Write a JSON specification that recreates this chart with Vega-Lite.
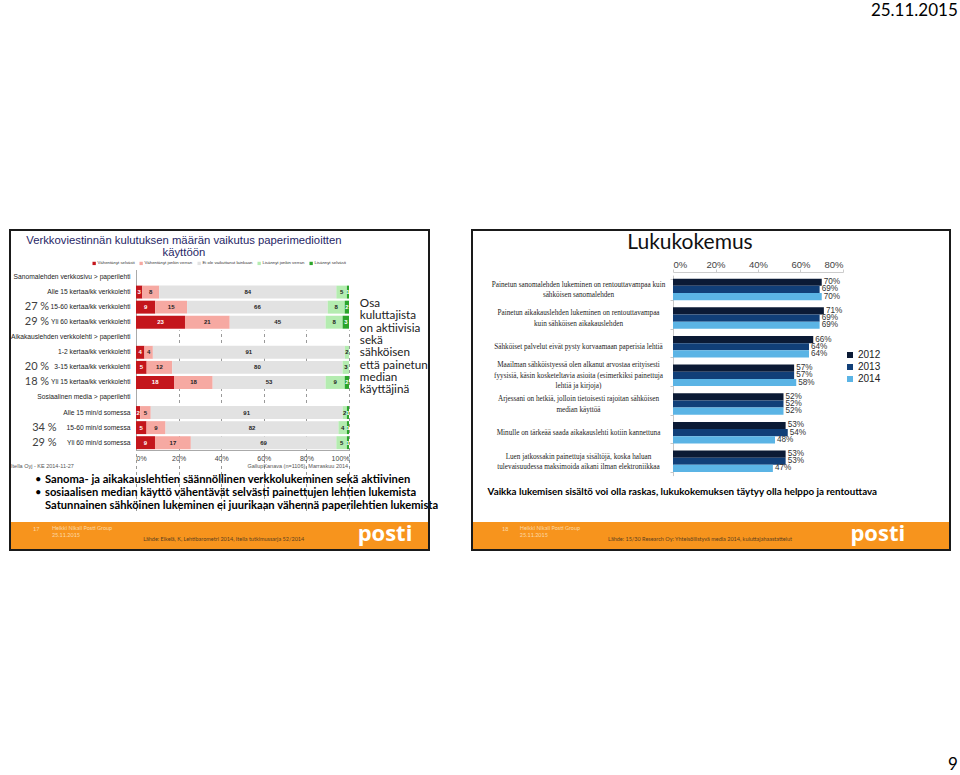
{
  "$schema": "https://vega.github.io/schema/vega-lite/v6.json",
  "background": "white",
  "padding": {"left": 9, "top": 2, "right": 0, "bottom": 0},
  "title": {"text": "25.11.2015", "anchor": "end", "font": "Lato", "fontSize": 17, "fontWeight": "normal", "color": "#000000", "offset": 206},
  "config": {"view": {"stroke": null}},
  "bounds": "flush",
  "spacing": 43,
  "resolve": {"scale": {"color": "independent"}, "legend": {"color": "independent"}},
  "datasets": {
    "left": [
      {"row": "Alle 15 kertaa/kk verkkolehti", "k": 1, "resp": "Vähentänyt selvästi", "v": 3},
      {"row": "Alle 15 kertaa/kk verkkolehti", "k": 2, "resp": "Vähentänyt jonkin verran", "v": 8},
      {"row": "Alle 15 kertaa/kk verkkolehti", "k": 3, "resp": "Ei ole vaikuttanut lainkaan", "v": 84},
      {"row": "Alle 15 kertaa/kk verkkolehti", "k": 4, "resp": "Lisännyt jonkin verran", "v": 5},
      {"row": "Alle 15 kertaa/kk verkkolehti", "k": 5, "resp": "Lisännyt selvästi", "v": 1},
      {"row": "15-60 kertaa/kk verkkolehti", "k": 1, "resp": "Vähentänyt selvästi", "v": 9},
      {"row": "15-60 kertaa/kk verkkolehti", "k": 2, "resp": "Vähentänyt jonkin verran", "v": 15},
      {"row": "15-60 kertaa/kk verkkolehti", "k": 3, "resp": "Ei ole vaikuttanut lainkaan", "v": 66},
      {"row": "15-60 kertaa/kk verkkolehti", "k": 4, "resp": "Lisännyt jonkin verran", "v": 8},
      {"row": "15-60 kertaa/kk verkkolehti", "k": 5, "resp": "Lisännyt selvästi", "v": 2},
      {"row": "Yli 60 kertaa/kk verkkolehti", "k": 1, "resp": "Vähentänyt selvästi", "v": 23},
      {"row": "Yli 60 kertaa/kk verkkolehti", "k": 2, "resp": "Vähentänyt jonkin verran", "v": 21},
      {"row": "Yli 60 kertaa/kk verkkolehti", "k": 3, "resp": "Ei ole vaikuttanut lainkaan", "v": 45},
      {"row": "Yli 60 kertaa/kk verkkolehti", "k": 4, "resp": "Lisännyt jonkin verran", "v": 8},
      {"row": "Yli 60 kertaa/kk verkkolehti", "k": 5, "resp": "Lisännyt selvästi", "v": 3},
      {"row": "1-2  kertaa/kk verkkolehti", "k": 1, "resp": "Vähentänyt selvästi", "v": 4},
      {"row": "1-2  kertaa/kk verkkolehti", "k": 2, "resp": "Vähentänyt jonkin verran", "v": 4},
      {"row": "1-2  kertaa/kk verkkolehti", "k": 3, "resp": "Ei ole vaikuttanut lainkaan", "v": 91},
      {"row": "1-2  kertaa/kk verkkolehti", "k": 4, "resp": "Lisännyt jonkin verran", "v": 2},
      {"row": "3-15 kertaa/kk verkkolehti", "k": 1, "resp": "Vähentänyt selvästi", "v": 5},
      {"row": "3-15 kertaa/kk verkkolehti", "k": 2, "resp": "Vähentänyt jonkin verran", "v": 12},
      {"row": "3-15 kertaa/kk verkkolehti", "k": 3, "resp": "Ei ole vaikuttanut lainkaan", "v": 80},
      {"row": "3-15 kertaa/kk verkkolehti", "k": 4, "resp": "Lisännyt jonkin verran", "v": 3},
      {"row": "Yli 15 kertaa/kk verkkolehti", "k": 1, "resp": "Vähentänyt selvästi", "v": 18},
      {"row": "Yli 15 kertaa/kk verkkolehti", "k": 2, "resp": "Vähentänyt jonkin verran", "v": 18},
      {"row": "Yli 15 kertaa/kk verkkolehti", "k": 3, "resp": "Ei ole vaikuttanut lainkaan", "v": 53},
      {"row": "Yli 15 kertaa/kk verkkolehti", "k": 4, "resp": "Lisännyt jonkin verran", "v": 9},
      {"row": "Yli 15 kertaa/kk verkkolehti", "k": 5, "resp": "Lisännyt selvästi", "v": 2},
      {"row": "Alle 15 min/d somessa", "k": 1, "resp": "Vähentänyt selvästi", "v": 2},
      {"row": "Alle 15 min/d somessa", "k": 2, "resp": "Vähentänyt jonkin verran", "v": 5},
      {"row": "Alle 15 min/d somessa", "k": 3, "resp": "Ei ole vaikuttanut lainkaan", "v": 91},
      {"row": "Alle 15 min/d somessa", "k": 4, "resp": "Lisännyt jonkin verran", "v": 2},
      {"row": "Alle 15 min/d somessa", "k": 5, "resp": "Lisännyt selvästi", "v": 1},
      {"row": "15-60 min/d somessa", "k": 1, "resp": "Vähentänyt selvästi", "v": 5},
      {"row": "15-60 min/d somessa", "k": 2, "resp": "Vähentänyt jonkin verran", "v": 9},
      {"row": "15-60 min/d somessa", "k": 3, "resp": "Ei ole vaikuttanut lainkaan", "v": 82},
      {"row": "15-60 min/d somessa", "k": 4, "resp": "Lisännyt jonkin verran", "v": 4},
      {"row": "15-60 min/d somessa", "k": 5, "resp": "Lisännyt selvästi", "v": 1},
      {"row": "Yli 60 min/d somessa", "k": 1, "resp": "Vähentänyt selvästi", "v": 9},
      {"row": "Yli 60 min/d somessa", "k": 2, "resp": "Vähentänyt jonkin verran", "v": 17},
      {"row": "Yli 60 min/d somessa", "k": 3, "resp": "Ei ole vaikuttanut lainkaan", "v": 69},
      {"row": "Yli 60 min/d somessa", "k": 4, "resp": "Lisännyt jonkin verran", "v": 5},
      {"row": "Yli 60 min/d somessa", "k": 5, "resp": "Lisännyt selvästi", "v": 1}
    ],
    "right": [
      {"s": "Painetun sanomalehden lukeminen on rentouttavampaa kuin|sähköisen sanomalehden", "year": "2012", "v": 0.70},
      {"s": "Painetun sanomalehden lukeminen on rentouttavampaa kuin|sähköisen sanomalehden", "year": "2013", "v": 0.69},
      {"s": "Painetun sanomalehden lukeminen on rentouttavampaa kuin|sähköisen sanomalehden", "year": "2014", "v": 0.70},
      {"s": "Painetun aikakauslehden lukeminen on rentouttavampaa|kuin sähköisen aikakauslehden", "year": "2012", "v": 0.71},
      {"s": "Painetun aikakauslehden lukeminen on rentouttavampaa|kuin sähköisen aikakauslehden", "year": "2013", "v": 0.69},
      {"s": "Painetun aikakauslehden lukeminen on rentouttavampaa|kuin sähköisen aikakauslehden", "year": "2014", "v": 0.69},
      {"s": "Sähköiset palvelut eivät pysty korvaamaan paperisia lehtiä", "year": "2012", "v": 0.66},
      {"s": "Sähköiset palvelut eivät pysty korvaamaan paperisia lehtiä", "year": "2013", "v": 0.64},
      {"s": "Sähköiset palvelut eivät pysty korvaamaan paperisia lehtiä", "year": "2014", "v": 0.64},
      {"s": "Maailman sähköistyessä olen alkanut arvostaa erityisesti|fyysisiä, käsin kosketeltavia asioita (esimerkiksi painettuja|lehtiä ja kirjoja)", "year": "2012", "v": 0.57},
      {"s": "Maailman sähköistyessä olen alkanut arvostaa erityisesti|fyysisiä, käsin kosketeltavia asioita (esimerkiksi painettuja|lehtiä ja kirjoja)", "year": "2013", "v": 0.57},
      {"s": "Maailman sähköistyessä olen alkanut arvostaa erityisesti|fyysisiä, käsin kosketeltavia asioita (esimerkiksi painettuja|lehtiä ja kirjoja)", "year": "2014", "v": 0.58},
      {"s": "Arjessani on hetkiä, jolloin tietoisesti rajoitan sähköisen|median käyttöä", "year": "2012", "v": 0.52},
      {"s": "Arjessani on hetkiä, jolloin tietoisesti rajoitan sähköisen|median käyttöä", "year": "2013", "v": 0.52},
      {"s": "Arjessani on hetkiä, jolloin tietoisesti rajoitan sähköisen|median käyttöä", "year": "2014", "v": 0.52},
      {"s": "Minulle on tärkeää saada aikakauslehti kotiin kannettuna", "year": "2012", "v": 0.53},
      {"s": "Minulle on tärkeää saada aikakauslehti kotiin kannettuna", "year": "2013", "v": 0.54},
      {"s": "Minulle on tärkeää saada aikakauslehti kotiin kannettuna", "year": "2014", "v": 0.48},
      {"s": "Luen jatkossakin painettuja sisältöjä, koska haluan|tulevaisuudessa maksimoida aikani ilman elektroniikkaa", "year": "2012", "v": 0.53},
      {"s": "Luen jatkossakin painettuja sisältöjä, koska haluan|tulevaisuudessa maksimoida aikani ilman elektroniikkaa", "year": "2013", "v": 0.53},
      {"s": "Luen jatkossakin painettuja sisältöjä, koska haluan|tulevaisuudessa maksimoida aikani ilman elektroniikkaa", "year": "2014", "v": 0.47}
    ]
  },
  "hconcat": [
    {
      "width": 419,
      "height": 320,
      "resolve": {"scale": {"x": "independent", "y": "independent"}},
      "layer": [
        {
          "data": {"values": [{}]},
          "mark": {"type": "rect", "color": "#f7941d"},
          "encoding": {
            "x": {"datum": 0, "type": "quantitative", "scale": {"domain": [0, 1]}, "axis": null},
            "x2": {"datum": 1},
            "y": {"datum": 0.9125, "type": "quantitative", "scale": {"domain": [0, 1], "reverse": true}, "axis": null},
            "y2": {"datum": 1}
          }
        },
        {
          "layer": [
            {
              "data": {"name": "left"},
              "mark": {"type": "bar"},
              "encoding": {
                "y": {
                  "field": "row", "type": "nominal",
                  "scale": {
                    "domain": ["Sanomalehden verkkosivu > paperilehti", "Alle 15 kertaa/kk verkkolehti", "15-60 kertaa/kk verkkolehti", "Yli 60 kertaa/kk verkkolehti", "Aikakauslehden verkkolehti > paperilehti", "1-2  kertaa/kk verkkolehti", "3-15 kertaa/kk verkkolehti", "Yli 15 kertaa/kk verkkolehti", "Sosiaalinen media > paperilehti", "Alle 15 min/d somessa", "15-60 min/d somessa", "Yli 60 min/d somessa"],
                    "range": [39.5, 220.2], "paddingInner": 0.14, "paddingOuter": 0.07
                  },
                  "axis": {"orient": "left", "offset": -126, "title": null, "ticks": false, "domain": true, "domainColor": "#aaaaaa", "labelPadding": 6, "labelFont": "Liberation Sans", "labelFontSize": 6.7, "labelColor": "#222222", "labelLimit": 0}
                },
                "x": {
                  "field": "v", "type": "quantitative", "stack": "normalize",
                  "scale": {"domain": [0, 1], "range": [126, 339], "nice": false},
                  "axis": {"orient": "bottom", "offset": -100, "title": null, "format": ".0%", "values": [0, 0.2, 0.4, 0.6, 0.8, 1], "ticks": false, "domainColor": "#aaaaaa", "grid": true, "gridColor": "#9a9a9a", "gridDash": [3, 3], "labelFont": "Liberation Sans", "labelFontSize": 7, "labelColor": "#444444", "labelPadding": 4}
                },
                "color": {
                  "field": "resp", "type": "nominal",
                  "scale": {"domain": ["Vähentänyt selvästi", "Vähentänyt jonkin verran", "Ei ole vaikuttanut lainkaan", "Lisännyt jonkin verran", "Lisännyt selvästi"], "range": ["#c4161c", "#f6a9a2", "#e2e2e2", "#b4ecb0", "#2ba52b"]},
                  "legend": {"orient": "none", "legendX": 82, "legendY": 31, "direction": "horizontal", "title": null, "symbolType": "square", "symbolSize": 11, "symbolStrokeWidth": 0, "labelFont": "Liberation Sans", "labelFontSize": 4.3, "labelColor": "#333333", "labelOffset": 1.2, "columnPadding": 4}
                },
                "order": {"field": "k", "type": "quantitative"}
              }
            },
            {
              "data": {"name": "left"},
              "mark": {"type": "text", "font": "Liberation Sans", "fontSize": 6, "fontWeight": "bold", "baseline": "middle", "align": "center"},
              "encoding": {
                "y": {"field": "row", "type": "nominal"},
                "x": {"field": "v", "type": "quantitative", "stack": "normalize", "bandPosition": 0.5},
                "detail": {"field": "resp", "type": "nominal"},
                "order": {"field": "k", "type": "quantitative"},
                "text": {"field": "v", "type": "quantitative"},
                "color": {"condition": {"test": "datum.k == 1 || datum.k == 5", "value": "#ffffff"}, "value": "#222222"}
              }
            },
            {
              "data": {"values": [
                {"row": "15-60 kertaa/kk verkkolehti", "p": "27 %"},
                {"row": "Yli 60 kertaa/kk verkkolehti", "p": "29 %"},
                {"row": "3-15 kertaa/kk verkkolehti", "p": "20 %"},
                {"row": "Yli 15 kertaa/kk verkkolehti", "p": "18 %"}
              ]},
              "mark": {"type": "text", "font": "Lato", "fontSize": 11, "color": "#404040", "baseline": "middle", "align": "center"},
              "encoding": {
                "y": {"field": "row", "type": "nominal"},
                "x": {"datum": -0.465, "type": "quantitative"},
                "text": {"field": "p", "type": "nominal"}
              }
            },
            {
              "data": {"values": [
                {"row": "15-60 min/d somessa", "p": "34 %"},
                {"row": "Yli 60 min/d somessa", "p": "29 %"}
              ]},
              "mark": {"type": "text", "font": "Lato", "fontSize": 11, "color": "#404040", "baseline": "middle", "align": "center"},
              "encoding": {
                "y": {"field": "row", "type": "nominal"},
                "x": {"datum": -0.43, "type": "quantitative"},
                "text": {"field": "p", "type": "nominal"}
              }
            }
          ]
        },
        {
          "data": {"values": [{}]},
          "mark": {"type": "text", "text": ["Verkkoviestinnän kulutuksen määrän vaikutus paperimedioitten", "käyttöön"], "font": "Liberation Sans", "fontSize": 11.3, "lineHeight": 12, "color": "#1f1f66", "align": "center", "baseline": "middle"},
          "encoding": {
            "x": {"datum": 0.415, "type": "quantitative", "scale": {"domain": [0, 1]}, "axis": null},
            "y": {"datum": 0.034, "type": "quantitative", "scale": {"domain": [0, 1], "reverse": true}, "axis": null}
          }
        },
        {
          "data": {"values": [{}]},
          "mark": {"type": "text", "text": ["Osa", "kuluttajista", "on aktiivisia", "sekä", "sähköisen", "että painetun", "median", "käyttäjinä"], "font": "Lato", "fontSize": 11.7, "lineHeight": 12.3, "color": "#222222", "align": "left", "baseline": "top"},
          "encoding": {
            "x": {"datum": 0.835, "type": "quantitative", "scale": {"domain": [0, 1]}, "axis": null},
            "y": {"datum": 0.2125, "type": "quantitative", "scale": {"domain": [0, 1], "reverse": true}, "axis": null}
          }
        },
        {
          "data": {"values": [{}]},
          "mark": {"type": "text", "text": "Itella Oyj - KE 2014-11-27", "font": "Liberation Sans", "fontSize": 5.5, "color": "#555555", "align": "left", "baseline": "middle"},
          "encoding": {
            "x": {"datum": 0.0025, "type": "quantitative", "scale": {"domain": [0, 1]}, "axis": null},
            "y": {"datum": 0.7375, "type": "quantitative", "scale": {"domain": [0, 1], "reverse": true}, "axis": null}
          }
        },
        {
          "data": {"values": [{}]},
          "mark": {"type": "text", "text": "GallupKanava (n=1106), Marraskuu 2014", "font": "Liberation Sans", "fontSize": 5.5, "color": "#555555", "align": "right", "baseline": "middle"},
          "encoding": {
            "x": {"datum": 0.807, "type": "quantitative", "scale": {"domain": [0, 1]}, "axis": null},
            "y": {"datum": 0.7375, "type": "quantitative", "scale": {"domain": [0, 1], "reverse": true}, "axis": null}
          }
        },
        {
          "data": {"values": [{}]},
          "mark": {"type": "text", "text": ["•", "", "•"], "font": "Lato", "fontSize": 11.2, "lineHeight": 13, "color": "#000000", "align": "left", "baseline": "middle"},
          "encoding": {
            "x": {"datum": 0.0597, "type": "quantitative", "scale": {"domain": [0, 1]}, "axis": null},
            "y": {"datum": 0.781, "type": "quantitative", "scale": {"domain": [0, 1], "reverse": true}, "axis": null}
          }
        },
        {
          "data": {"values": [{}]},
          "mark": {"type": "text", "text": ["Sanoma- ja aikakauslehtien säännöllinen verkkolukeminen sekä aktiivinen", "sosiaalisen median käyttö vähentävät selvästi painettujen lehtien lukemista", "Satunnainen sähköinen lukeminen ei juurikaan vähennä paperilehtien lukemista"], "font": "Lato", "fontSize": 11.2, "fontWeight": "bold", "lineHeight": 13, "color": "#000000", "align": "left", "baseline": "middle"},
          "encoding": {
            "x": {"datum": 0.0835, "type": "quantitative", "scale": {"domain": [0, 1]}, "axis": null},
            "y": {"datum": 0.781, "type": "quantitative", "scale": {"domain": [0, 1], "reverse": true}, "axis": null}
          }
        },
        {
          "data": {"values": [{}]},
          "mark": {"type": "text", "text": "17", "font": "Lato", "fontSize": 5.5, "color": "#fcd9a8", "align": "left", "baseline": "middle"},
          "encoding": {
            "x": {"datum": 0.055, "type": "quantitative", "scale": {"domain": [0, 1]}, "axis": null},
            "y": {"datum": 0.934, "type": "quantitative", "scale": {"domain": [0, 1], "reverse": true}, "axis": null}
          }
        },
        {
          "data": {"values": [{}]},
          "mark": {"type": "text", "text": ["Heikki Nikali Posti Group", "25.11.2015"], "font": "Lato", "fontSize": 5.5, "lineHeight": 7.5, "color": "#fcd9a8", "align": "left", "baseline": "middle"},
          "encoding": {
            "x": {"datum": 0.1, "type": "quantitative", "scale": {"domain": [0, 1]}, "axis": null},
            "y": {"datum": 0.931, "type": "quantitative", "scale": {"domain": [0, 1], "reverse": true}, "axis": null}
          }
        },
        {
          "data": {"values": [{}]},
          "mark": {"type": "text", "text": "Lähde: Elkelä, K, Lehtibarometri  2014, Itella tutkimussarja 52/2014", "font": "Lato", "fontSize": 5.5, "color": "#5a4020", "align": "center", "baseline": "middle"},
          "encoding": {
            "x": {"datum": 0.51, "type": "quantitative", "scale": {"domain": [0, 1]}, "axis": null},
            "y": {"datum": 0.966, "type": "quantitative", "scale": {"domain": [0, 1], "reverse": true}, "axis": null}
          }
        },
        {
          "data": {"values": [{}]},
          "mark": {"type": "text", "text": "posti", "font": "Open Sans", "fontSize": 22, "fontWeight": "bold", "color": "#ffffff", "align": "center", "baseline": "middle"},
          "encoding": {
            "x": {"datum": 0.895, "type": "quantitative", "scale": {"domain": [0, 1]}, "axis": null},
            "y": {"datum": 0.95, "type": "quantitative", "scale": {"domain": [0, 1], "reverse": true}, "axis": null}
          }
        },
        {
          "data": {"values": [{}]},
          "mark": {"type": "rect", "filled": false, "color": "#1a1a1a", "strokeWidth": 2},
          "encoding": {
            "x": {"datum": 0, "type": "quantitative", "scale": {"domain": [0, 1]}, "axis": null},
            "x2": {"datum": 1},
            "y": {"datum": 0, "type": "quantitative", "scale": {"domain": [0, 1], "reverse": true}, "axis": null},
            "y2": {"datum": 1}
          }
        }
      ]
    },
    {
      "width": 478,
      "height": 320,
      "resolve": {"scale": {"x": "independent", "y": "independent"}},
      "layer": [
        {
          "data": {"values": [{}]},
          "mark": {"type": "rect", "color": "#f7941d"},
          "encoding": {
            "x": {"datum": 0, "type": "quantitative", "scale": {"domain": [0, 1]}, "axis": null},
            "x2": {"datum": 1},
            "y": {"datum": 0.9125, "type": "quantitative", "scale": {"domain": [0, 1], "reverse": true}, "axis": null},
            "y2": {"datum": 1}
          }
        },
        {
          "data": {"name": "right"},
          "layer": [
            {
              "mark": {"type": "bar"},
              "encoding": {
                "y": {
                  "field": "s", "type": "nominal", "sort": null,
                  "scale": {"range": [45.1, 245.6], "paddingInner": 0.25, "paddingOuter": 0.125},
                  "axis": {"orient": "left", "offset": -201, "title": null, "domainColor": "#c8c8c8", "tickColor": "#c8c8c8", "tickSize": 3, "tickBand": "extent", "labelPadding": 92, "labelAlign": "center", "labelBaseline": "middle", "labelExpr": "split(datum.label, '|')", "labelOffset": {"condition": [{"test": "length(split(datum.value, '|')) == 3", "value": -10.5}, {"test": "length(split(datum.value, '|')) == 2", "value": -5.25}], "value": 0}, "labelFont": "Liberation Serif", "labelFontSize": 7.2, "labelColor": "#222222", "labelLineHeight": 10.5, "labelLimit": 0}
                },
                "yOffset": {"field": "year", "type": "nominal", "sort": ["2012", "2013", "2014"]},
                "x": {
                  "field": "v", "type": "quantitative",
                  "scale": {"domain": [0, 0.8], "range": [201, 371], "nice": false},
                  "axis": {"orient": "top", "offset": -42, "title": null, "format": ".0%", "values": [0, 0.2, 0.4, 0.6, 0.8], "grid": false, "domainColor": "#cccccc", "tickColor": "#cccccc", "tickSize": 3, "labelFont": "Liberation Sans", "labelFontSize": 9.5, "labelColor": "#444444", "labelPadding": 0}
                },
                "color": {
                  "field": "year", "type": "nominal",
                  "scale": {"domain": ["2012", "2013", "2014"], "range": ["#0b1a35", "#113f78", "#5bb4e5"]},
                  "legend": {"orient": "none", "legendX": 373, "legendY": 120, "title": null, "symbolType": "square", "symbolSize": 36, "symbolStrokeWidth": 0, "labelFont": "Liberation Sans", "labelFontSize": 10, "labelColor": "#222222", "rowPadding": 2, "labelOffset": 3}
                }
              }
            },
            {
              "mark": {"type": "text", "align": "left", "baseline": "middle", "dx": 2, "font": "Liberation Sans", "fontSize": 8.2, "color": "#333333"},
              "encoding": {
                "y": {"field": "s", "type": "nominal", "sort": null},
                "yOffset": {"field": "year", "type": "nominal", "sort": ["2012", "2013", "2014"]},
                "x": {"field": "v", "type": "quantitative"},
                "text": {"field": "v", "type": "quantitative", "format": ".0%"}
              }
            }
          ]
        },
        {
          "data": {"values": [{}]},
          "mark": {"type": "text", "text": "Lukukokemus", "font": "Lato", "fontSize": 21, "color": "#111111", "align": "center", "baseline": "middle"},
          "encoding": {
            "x": {"datum": 0.456, "type": "quantitative", "scale": {"domain": [0, 1]}, "axis": null},
            "y": {"datum": 0.041, "type": "quantitative", "scale": {"domain": [0, 1], "reverse": true}, "axis": null}
          }
        },
        {
          "data": {"values": [{}]},
          "mark": {"type": "text", "text": "Vaikka lukemisen sisältö voi olla raskas, lukukokemuksen täytyy olla helppo ja rentouttava", "font": "Lato", "fontSize": 9.8, "fontWeight": "bold", "color": "#000000", "align": "center", "baseline": "middle"},
          "encoding": {
            "x": {"datum": 0.44, "type": "quantitative", "scale": {"domain": [0, 1]}, "axis": null},
            "y": {"datum": 0.819, "type": "quantitative", "scale": {"domain": [0, 1], "reverse": true}, "axis": null}
          }
        },
        {
          "data": {"values": [{}]},
          "mark": {"type": "text", "text": "18", "font": "Lato", "fontSize": 5.5, "color": "#fcd9a8", "align": "left", "baseline": "middle"},
          "encoding": {
            "x": {"datum": 0.063, "type": "quantitative", "scale": {"domain": [0, 1]}, "axis": null},
            "y": {"datum": 0.934, "type": "quantitative", "scale": {"domain": [0, 1], "reverse": true}, "axis": null}
          }
        },
        {
          "data": {"values": [{}]},
          "mark": {"type": "text", "text": ["Heikki Nikali Posti Group", "25.11.2015"], "font": "Lato", "fontSize": 5.5, "lineHeight": 7.5, "color": "#fcd9a8", "align": "left", "baseline": "middle"},
          "encoding": {
            "x": {"datum": 0.1, "type": "quantitative", "scale": {"domain": [0, 1]}, "axis": null},
            "y": {"datum": 0.931, "type": "quantitative", "scale": {"domain": [0, 1], "reverse": true}, "axis": null}
          }
        },
        {
          "data": {"values": [{}]},
          "mark": {"type": "text", "text": "Lähde: 15/30 Research Oy: Yhteisöllistyvä media 2014, kuluttajahaastattelut", "font": "Lato", "fontSize": 5.5, "color": "#5a4020", "align": "center", "baseline": "middle"},
          "encoding": {
            "x": {"datum": 0.477, "type": "quantitative", "scale": {"domain": [0, 1]}, "axis": null},
            "y": {"datum": 0.966, "type": "quantitative", "scale": {"domain": [0, 1], "reverse": true}, "axis": null}
          }
        },
        {
          "data": {"values": [{}]},
          "mark": {"type": "text", "text": "posti", "font": "Open Sans", "fontSize": 22, "fontWeight": "bold", "color": "#ffffff", "align": "center", "baseline": "middle"},
          "encoding": {
            "x": {"datum": 0.849, "type": "quantitative", "scale": {"domain": [0, 1]}, "axis": null},
            "y": {"datum": 0.95, "type": "quantitative", "scale": {"domain": [0, 1], "reverse": true}, "axis": null}
          }
        },
        {
          "data": {"values": [{}]},
          "mark": {"type": "text", "text": "9", "font": "Lato", "fontSize": 17, "color": "#000000", "align": "center", "baseline": "middle"},
          "encoding": {
            "x": {"datum": 1.006, "type": "quantitative", "scale": {"domain": [0, 1]}, "axis": null},
            "y": {"datum": 1.672, "type": "quantitative", "scale": {"domain": [0, 1], "reverse": true}, "axis": null}
          }
        },
        {
          "data": {"values": [{}]},
          "mark": {"type": "rect", "filled": false, "color": "#1a1a1a", "strokeWidth": 2},
          "encoding": {
            "x": {"datum": 0, "type": "quantitative", "scale": {"domain": [0, 1]}, "axis": null},
            "x2": {"datum": 1},
            "y": {"datum": 0, "type": "quantitative", "scale": {"domain": [0, 1], "reverse": true}, "axis": null},
            "y2": {"datum": 1}
          }
        }
      ]
    }
  ]
}
